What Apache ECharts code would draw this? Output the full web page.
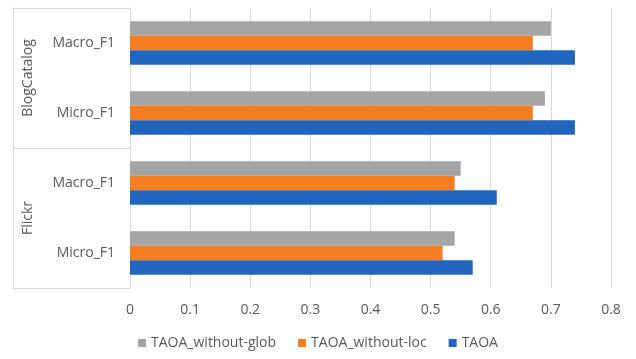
<!DOCTYPE html>
<html>
<head>
<meta charset="utf-8">
<script src="https://cdn.jsdelivr.net/npm/echarts@6/dist/echarts.min.js"></script>
<style>
  html, body { margin: 0; padding: 0; background: #fff; }
  #chart { width: 636px; height: 359px; }
</style>
</head>
<body>
<div id="chart"></div>
<script>
// Metric rows, listed bottom to top, each tagged "dataset|metric"
var categories = ['Flickr|Micro_F1', 'Flickr|Macro_F1', 'BlogCatalog|Micro_F1', 'BlogCatalog|Macro_F1'];
// Dataset groups, bottom to top
var groups = ['Flickr', 'BlogCatalog'];
var seriesNames = ['TAOA_without-glob', 'TAOA_without-loc', 'TAOA'];
var withoutGlob = [0.54, 0.55, 0.69, 0.70];
var withoutLoc = [0.52, 0.54, 0.67, 0.67];
var taoa = [0.57, 0.61, 0.74, 0.74];
var xTicks = [0, 0.8, 0.1]; // min, max, step

var colors = ['#A5A5A5', '#F47E22', '#2265BF'];
var textColor = '#595959';
var font = '"Open Sans", "Noto Sans", sans-serif';
var fontSize = 14;

var chart = echarts.init(document.getElementById('chart'));

function barSeries(name, data, color) {
  return {
    name: name,
    type: 'bar',
    data: data,
    barGap: '0%',
    barCategoryGap: '38%',
    itemStyle: { color: color },
    emphasis: { disabled: true }
  };
}

chart.setOption({
  animation: false,
  textStyle: { fontFamily: font },
  grid: { left: 130, right: 25, top: 8, bottom: 71, containLabel: false },
  legend: {
    bottom: 4,
    left: 'center',
    icon: 'rect',
    itemWidth: 8,
    itemHeight: 8,
    itemGap: 22,
    textStyle: { color: textColor, fontSize: fontSize, fontFamily: font },
    data: seriesNames.slice()
  },
  xAxis: {
    type: 'value',
    min: xTicks[0],
    max: xTicks[1],
    interval: xTicks[2],
    axisLine: { show: false },
    axisTick: { show: false },
    axisLabel: { color: textColor, fontSize: fontSize, margin: 15, fontFamily: font },
    splitLine: { lineStyle: { color: '#d9d9d9', width: 1 } }
  },
  yAxis: [
    {
      // metric labels next to the bars
      type: 'category',
      data: categories,
      axisLine: { show: true, lineStyle: { color: '#d9d9d9' } },
      axisTick: { show: false },
      axisLabel: {
        color: textColor,
        fontSize: fontSize,
        margin: 15,
        fontFamily: font,
        formatter: function (v) { return v.split('|')[1]; }
      }
    },
    {
      // dataset group labels with separators
      type: 'category',
      data: groups,
      position: 'left',
      axisLine: { show: false },
      axisTick: { show: true, length: 117, lineStyle: { color: '#d9d9d9' } },
      axisLabel: { color: textColor, fontSize: fontSize, rotate: 90, margin: 95, fontFamily: font },
      splitLine: { show: false }
    },
    {
      // outer frame edge of the group labels
      type: 'category',
      data: groups,
      position: 'left',
      offset: 117,
      axisLine: { show: true, lineStyle: { color: '#d9d9d9' } },
      axisTick: { show: false },
      axisLabel: { show: false },
      splitLine: { show: false }
    }
  ],
  series: [
    barSeries(seriesNames[0], withoutGlob, colors[0]),
    barSeries(seriesNames[1], withoutLoc, colors[1]),
    barSeries(seriesNames[2], taoa, colors[2])
  ]
});
</script>
</body>
</html>
